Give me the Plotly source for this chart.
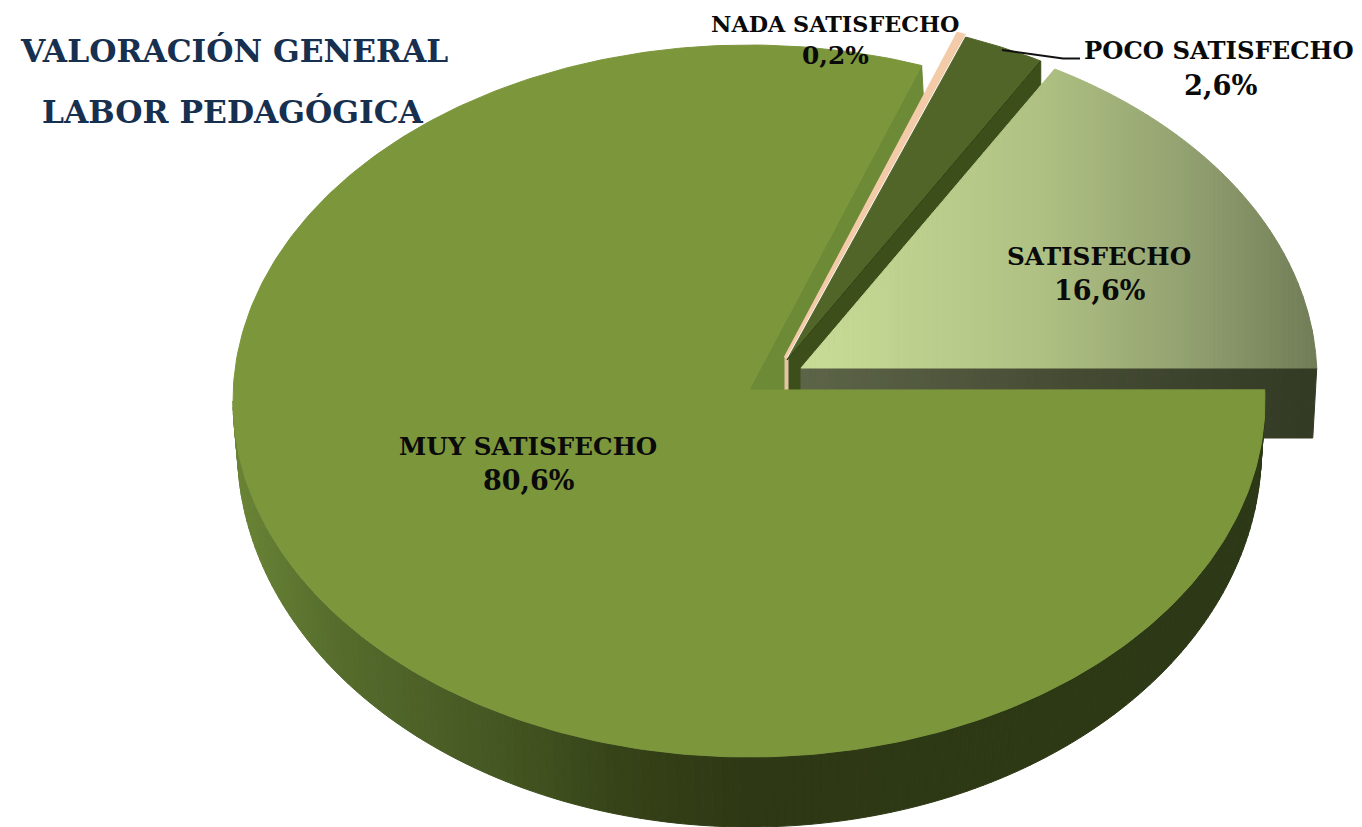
import math
import plotly.graph_objects as go

# ---- data ----
categories = ["MUY SATISFECHO", "NADA SATISFECHO", "POCO SATISFECHO", "SATISFECHO"]
values = [80.6, 0.2, 2.6, 16.6]
value_labels = ["80,6%", "0,2%", "2,6%", "16,6%"]
title_lines = ["VALORACIÓN GENERAL", "LABOR PEDAGÓGICA"]

# ---- geometry of the drawing (axis units = page pixels) ----
RX, RY = 516, 356
APEX_SHIFT = 11
CENTERS = {"MUY SATISFECHO": (749, 401), "NADA SATISFECHO": (785, 369),
           "POCO SATISFECHO": (787, 371), "SATISFECHO": (801, 379)}
FONT = "DejaVu Serif"


def param(theta):
    """pie angle (deg, counter-clockwise from 3 o'clock) -> ellipse parameter, slight perspective"""
    return theta + 1.8 - 0.017 * theta


def pt(c, t, rx=RX, ry=RY):
    r = math.radians(t)
    return c[0] + rx * math.cos(r), c[1] - ry * math.sin(r)


def arc(c, t0, t1, n=120, rx=RX, ry=RY):
    return [pt(c, t0 + (t1 - t0) * i / n, rx, ry) for i in range(n + 1)]


def lerp_color(stops, f):
    f = max(0, min(1, f))
    for (a, ca), (b, cb) in zip(stops, stops[1:]):
        if f <= b:
            k = (f - a) / (b - a) if b > a else 0
            return "rgb(%d,%d,%d)" % tuple(round(ca[i] + (cb[i] - ca[i]) * k) for i in range(3))
    return "rgb(%d,%d,%d)" % stops[-1][1]


fig = go.Figure()


def poly(points, color, line=None, lw=1):
    xs = [p[0] for p in points] + [points[0][0]]
    ys = [p[1] for p in points] + [points[0][1]]
    fig.add_trace(go.Scatter(x=xs, y=ys, mode="lines", fill="toself", fillcolor=color,
                             line=dict(color=line or color, width=lw), hoverinfo="skip",
                             showlegend=False))


# pie angles from the values: starts at 3 o'clock and runs clockwise
bounds = {}
acc = 0
for name, v in zip(categories, values):
    a0 = -acc * 3.6
    acc += v
    bounds[name] = (a0, a0 - v * 3.6)

muy_c = CENTERS["MUY SATISFECHO"]
nada_c = CENTERS["NADA SATISFECHO"]
poco_c = CENTERS["POCO SATISFECHO"]
sat_c = CENTERS["SATISFECHO"]


def apex(c):
    return c[0], c[1] - APEX_SHIFT


muy_end = param(bounds["MUY SATISFECHO"][1] + 360)
nada_end = param(bounds["NADA SATISFECHO"][1] + 360)
poco_end = param(bounds["POCO SATISFECHO"][1] + 360)
sat_start = poco_end
sat_end = param(0)

# --- cut face of the large slice (far side) ---
mp = pt(muy_c, muy_end)
poly([apex(muy_c), mp, (mp[0] + 2, mp[1] + 36), (785, 358), (787, 390)], "#6d8a37")

# --- cut face of the small dark slice ---
pp = pt(poco_c, poco_end)
poly([apex(poco_c), pp, (pp[0], pp[1] + 30), (815, 368), (801, 395), (787, 395)], "#3c4f1b")

# --- nada ---
poly([(785, 358), (785, 392), (788, 392), (788, 358)], "#e3c4a4")
poly([apex(nada_c)] + arc(nada_c, muy_end, nada_end, 6), "#f3cba8", lw=3)

# --- poco ---
poly([apex(poco_c)] + arc(poco_c, nada_end, poco_end, 30), "#516528")
fig.add_trace(go.Scatter(x=[apex(poco_c)[0], pp[0]], y=[apex(poco_c)[1], pp[1]], mode="lines",
                         hoverinfo="skip", line=dict(color="#2f3d12", width=1), showlegend=False))

# --- satisfecho front wall ---
FRONT = [(0, (92, 100, 72)), (0.5, (70, 76, 52)), (1, (50, 58, 36))]
sx0, sx1 = sat_c[0], pt(sat_c, sat_end)[0]
DEPTH_S = 70
n = 60
for i in range(n):
    a = sx0 + (sx1 - sx0) * i / n
    b = sx0 + (sx1 - sx0) * (i + 1) / n
    y0 = apex(sat_c)[1]
    poly([(a, y0), (b, y0), (b - 4 * (i + 1) / n, y0 + DEPTH_S), (a - 4 * i / n, y0 + DEPTH_S)],
         lerp_color(FRONT, i / n))

# --- satisfecho top, horizontal gradient ---
TOP_S = [(0, (201, 220, 151)), (0.45, (176, 194, 131)), (0.75, (146, 160, 112)), (1, (112, 124, 86))]
pe = pt(sat_c, sat_start)
ap = apex(sat_c)


def top_y(x):
    if x <= pe[0]:
        return ap[1] + (pe[1] - ap[1]) * (x - ap[0]) / (pe[0] - ap[0])
    r = (x - sat_c[0]) / RX
    return sat_c[1] - RY * math.sqrt(max(0, 1 - r * r))


n = 110
for i in range(n):
    a = sx0 + (sx1 - sx0) * i / n
    b = sx0 + (sx1 - sx0) * (i + 1) / n
    pts = [(a, ap[1])]
    m = 4
    pts += [(a + (b - a) * k / m, min(ap[1], top_y(a + (b - a) * k / m))) for k in range(m + 1)]
    pts += [(b, ap[1])]
    poly(pts, lerp_color(TOP_S, i / n))

# --- muy satisfecho wall: curved, shaded left to right ---
BOTTOM_C = (749.5, 449)
BRX, BRY = 512, 378
WALL = [(0, (106, 132, 54)), (0.1, (85, 108, 44)), (0.23, (72, 90, 36)), (0.31, (62, 78, 29)),
        (0.375, (54, 66, 24)), (0.5, (46, 56, 20)), (1, (44, 56, 22))]
n = 180
t_start, t_end = param(0), -180.0
for i in range(n):
    t0 = t_start + (t_end - t_start) * i / n
    t1 = t_start + (t_end - t_start) * (i + 1) / n
    p0, p1 = pt(muy_c, t0), pt(muy_c, t1)
    q0, q1 = pt(BOTTOM_C, t0, BRX, BRY), pt(BOTTOM_C, t1, BRX, BRY)
    f = (1265 - (p0[0] + p1[0]) / 2) / (1265 - 233)
    poly([p0, p1, q1, q0], lerp_color(WALL, 1 - f))

# --- muy satisfecho top ---
muy_arc = arc(muy_c, param(0), muy_end - 360, 360)
poly([apex(muy_c)] + muy_arc, "#7c963c")

# --- leader line ---
fig.add_trace(go.Scatter(x=[1002, 1040, 1063, 1080], y=[50, 55, 58.5, 58.5], mode="lines",
                         hoverinfo="skip", line=dict(color="#111111", width=2), showlegend=False))

layout_ann = []
title_pos = [(233.5, 50), (233, 111)]
for s, (x, y) in zip(title_lines, title_pos):
    layout_ann.append(dict(x=x, y=y, text=f"<b>{s}</b>", showarrow=False, xanchor="center",
                           yanchor="middle", font=dict(family=FONT, size=31.3, color="#17304f")))
name_pos = {"MUY SATISFECHO": (528, 446), "NADA SATISFECHO": (835, 24),
            "POCO SATISFECHO": (1219, 50), "SATISFECHO": (1099, 256)}
value_pos = {"MUY SATISFECHO": (528, 480), "NADA SATISFECHO": (835, 55),
             "POCO SATISFECHO": (1220, 85), "SATISFECHO": (1099, 290)}
name_size = {"MUY SATISFECHO": 24.6, "NADA SATISFECHO": 22.3, "POCO SATISFECHO": 24.3, "SATISFECHO": 24.7}
value_size = {"MUY SATISFECHO": 27, "NADA SATISFECHO": 24.8, "POCO SATISFECHO": 27.3, "SATISFECHO": 27}
for name, lab in zip(categories, value_labels):
    for text, (x, y), size in ((name, name_pos[name], name_size[name]),
                               (lab, value_pos[name], value_size[name])):
        layout_ann.append(dict(x=x, y=y, text=f"<b>{text}</b>", showarrow=False,
                               xanchor="center", yanchor="middle", align="center",
                               font=dict(family=FONT, size=size, color="#0a0a0a")))

fig.update_layout(
    width=1362, height=827, margin=dict(l=0, r=0, t=0, b=0),
    paper_bgcolor="white", plot_bgcolor="white", showlegend=False,
    xaxis=dict(range=[0, 1362], visible=False, fixedrange=True),
    yaxis=dict(range=[827, 0], visible=False, fixedrange=True),
    annotations=layout_ann,
)
fig.write_html("out.html", config={"displayModeBar": False},
               post_script="document.body.style.margin='0';")
